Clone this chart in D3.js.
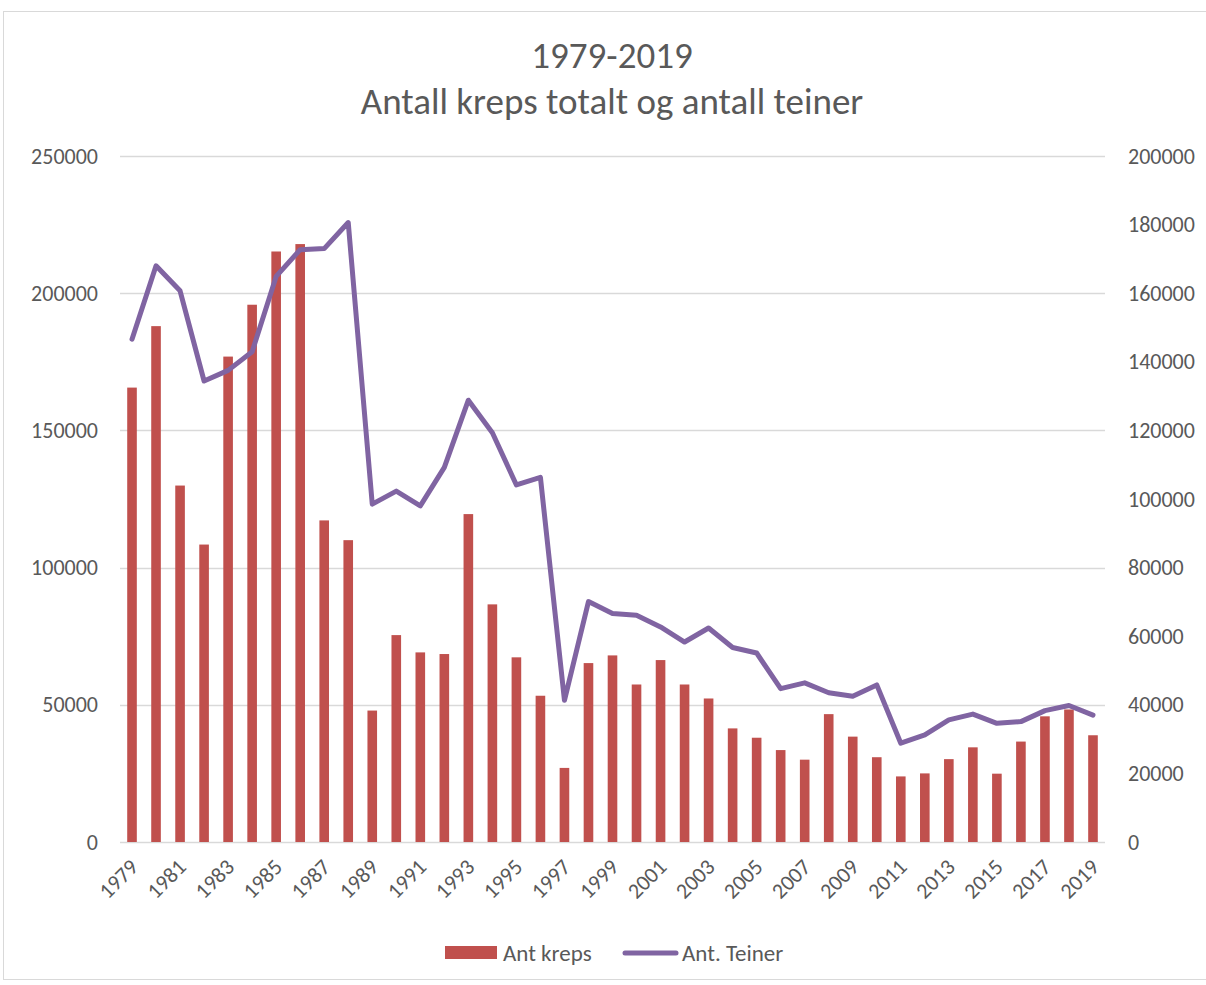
<!DOCTYPE html>
<html lang="en">
<head>
  <meta charset="UTF-8">
  <title>Antall kreps totalt og antall teiner</title>
  <style>
    body { margin: 0; background: #fff; }
    text { font-family: Carlito, 'Open Sans', sans-serif; fill: #595959; }
  </style>
</head>
<body>
  <div class="canvas"></div>
  <script src="https://d3js.org/d3.v7.min.js"></script>
  <script>
    const years = d3.range(1979, 2020).map(String);
    const kreps = [
      165600, 188000, 129900, 108400, 176900, 195800, 215200, 217900, 117200, 110000,
      47900, 75400, 69100, 68500, 119500, 86600, 67300, 53300, 27000, 65200,
      68000, 57400, 66300, 57400, 52300, 41400, 38000, 33500, 30000, 46600,
      38400, 30900, 23900, 25000, 30200, 34500, 24900, 36600, 45800, 48300,
      38900
    ];
    const teiner = [
      146600, 168000, 160700, 134400, 137500, 142900, 164900, 172700, 173000, 180600,
      98500, 102300, 98000, 109200, 128800, 119300, 104100, 106300, 41300, 70100,
      66600, 66100, 62700, 58300, 62400, 56700, 55100, 44700, 46400, 43500,
      42500, 45800, 28800, 31200, 35600, 37300, 34600, 35100, 38300, 39800,
      37000
    ];
    const leftTicks = [0, 50000, 100000, 150000, 200000, 250000];
    const rightTicks = [0, 20000, 40000, 60000, 80000, 100000, 120000, 140000, 160000, 180000, 200000];
    const yearLabels = years.filter((d, i) => i % 2 === 0);

    const width = 1206;
    const height = 985;
    const margin = {top: 156, right: 101, bottom: 143, left: 120};
    const plotW = width - margin.left - margin.right;
    const plotH = height - margin.top - margin.bottom;

    const svg = d3.select('.canvas')
      .append('svg')
      .attr('width', width)
      .attr('height', height);

    // chart frame
    svg.append('rect')
      .attr('x', 3.5).attr('y', 11.5)
      .attr('width', 1220).attr('height', 968)
      .attr('fill', 'none')
      .attr('stroke', '#d9d9d9');

    svg.append('text')
      .attr('x', 612).attr('y', 68)
      .attr('text-anchor', 'middle')
      .style('font-size', '37px')
      .text('1979-2019');
    svg.append('text')
      .attr('x', 612).attr('y', 114)
      .attr('text-anchor', 'middle')
      .style('font-size', '37px')
      .text('Antall kreps totalt og antall teiner');

    const graph = svg.append('g')
      .attr('transform', `translate(${margin.left}, ${margin.top})`);

    const x = d3.scaleBand()
      .domain(years)
      .range([0, plotW])
      .paddingInner(0.6)
      .paddingOuter(0.3);

    const yL = d3.scaleLinear().domain([0, 250000]).range([plotH, 0]);
    const yR = d3.scaleLinear().domain([0, 200000]).range([plotH, 0]);

    // gridlines
    graph.append('g')
      .selectAll('line')
      .data(leftTicks)
      .enter()
      .append('line')
      .attr('x1', 0).attr('x2', plotW)
      .attr('y1', d => Math.round(yL(d)) + 0.5)
      .attr('y2', d => Math.round(yL(d)) + 0.5)
      .attr('stroke', '#d9d9d9')
      .attr('stroke-width', 1.3);

    graph.selectAll('rect.bar')
      .data(kreps)
      .enter()
      .append('rect')
      .attr('class', 'bar')
      .attr('x', (d, i) => x(years[i]))
      .attr('width', x.bandwidth())
      .attr('y', d => yL(d))
      .attr('height', d => plotH - yL(d))
      .attr('fill', '#c0504d');

    const line = d3.line()
      .x((d, i) => x(years[i]) + x.bandwidth() / 2)
      .y(d => yR(d));

    graph.append('path')
      .datum(teiner)
      .attr('d', line)
      .attr('fill', 'none')
      .attr('stroke', '#8064a2')
      .attr('stroke-width', 5)
      .attr('stroke-linejoin', 'round')
      .attr('stroke-linecap', 'round');

    const gL = graph.append('g')
      .call(d3.axisLeft(yL).tickValues(leftTicks).tickSize(0).tickPadding(22).tickFormat(d3.format('d')));
    const gR = graph.append('g')
      .attr('transform', `translate(${plotW}, 0)`)
      .call(d3.axisRight(yR).tickValues(rightTicks).tickSize(0).tickPadding(23).tickFormat(d3.format('d')));
    const gX = graph.append('g')
      .attr('transform', `translate(0, ${plotH})`)
      .call(d3.axisBottom(x).tickValues(yearLabels).tickSize(0));

    [gL, gR, gX].forEach(g => {
      g.select('.domain').remove();
      g.selectAll('text')
        .style('font-size', '22px')
        .style('font-family', "Carlito, 'Open Sans', sans-serif")
        .attr('fill', '#595959');
    });

    gX.selectAll('text')
      .attr('y', 0)
      .attr('dy', '0.35em')
      .attr('text-anchor', 'end')
      .attr('transform', 'translate(2, 21) rotate(-45)');

    // legend
    const legend = svg.append('g');
    legend.append('rect')
      .attr('x', 445).attr('y', 946)
      .attr('width', 52).attr('height', 13)
      .attr('fill', '#c0504d');
    legend.append('text')
      .attr('x', 503).attr('y', 953)
      .attr('dy', '0.35em')
      .style('font-size', '23px')
      .text('Ant kreps');
    legend.append('line')
      .attr('x1', 625).attr('x2', 676)
      .attr('y1', 953).attr('y2', 953)
      .attr('stroke', '#8064a2')
      .attr('stroke-width', 5)
      .attr('stroke-linecap', 'round');
    legend.append('text')
      .attr('x', 682).attr('y', 953)
      .attr('dy', '0.35em')
      .style('font-size', '23px')
      .text('Ant. Teiner');
  </script>
</body>
</html>
